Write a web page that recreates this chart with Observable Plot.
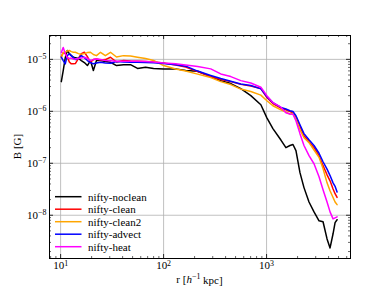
<!DOCTYPE html>
<html><head><meta charset="utf-8">
<script src="https://cdn.jsdelivr.net/npm/d3@7"></script>
<script src="https://cdn.jsdelivr.net/npm/@observablehq/plot@0.6"></script>
<style>body{margin:0;background:#fff}svg{display:block}</style>
</head><body><div id="chart"></div>
<script>
// radius [h^-1 kpc]
const radius = [10.16, 10.6, 11.1, 11.6, 12.15, 12.7, 13.3, 13.9, 14.9, 15.9, 17.0, 18.2, 19.5, 20.8, 22.3, 24.4, 27.2, 30.5, 34.9, 40.8, 47.7, 55.8, 66.8, 79.9, 100, 131, 164, 214, 287, 359, 449, 562, 703, 880, 1007, 1152, 1378, 1541, 1686, 1804, 1929, 2110, 2308, 2582, 2888, 3231, 3534, 3865, 4134, 4421, 4625, 4837];
// B [G]
const noclean = [3.73e-6, 6.1e-6, 1.08e-5, 1.48e-5, 1.29e-5, 1.18e-5, 1.10e-5, 1.08e-5, 1.04e-5, 9.5e-6, 8.7e-6, 7.6e-6, 9.5e-6, 6.1e-6, 9.5e-6, 9.5e-6, 9.1e-6, 8.8e-6, 7.6e-6, 7.9e-6, 7.9e-6, 6.7e-6, 7.05e-6, 6.7e-6, 6.56e-6, 6.56e-6, 6.1e-6, 5.9e-6, 4.66e-6, 3.9e-6, 3.42e-6, 2.74e-6, 2.01e-6, 1.34e-6, 7.5e-7, 4.65e-7, 2.8e-7, 2.0e-7, 2.2e-7, 2.3e-7, 1.75e-7, 6.6e-8, 3.4e-8, 1.8e-8, 1.16e-8, 7.8e-9, 7.5e-9, 3.5e-9, 2.35e-9, 4.4e-9, 7.2e-9, 8.2e-9];
const clean = [1.13e-5, 1.35e-5, 1.29e-5, 1.13e-5, 8.9e-6, 8.2e-6, 8.2e-6, 8.3e-6, 1.04e-5, 1.29e-5, 1.37e-5, 1.13e-5, 8.8e-6, 9.9e-6, 1.02e-5, 9.7e-6, 9.9e-6, 1.10e-5, 8.9e-6, 9.5e-6, 9.3e-6, 9.2e-6, 9.1e-6, 8.9e-6, 8.5e-6, 7.8e-6, 7.1e-6, 5.8e-6, 4.66e-6, 4.1e-6, 3.73e-6, 3.3e-6, 3.06e-6, 2.74e-6, 1.84e-6, 1.41e-6, 1.15e-6, 1.07e-6, 9.9e-7, 9.4e-7, 7.9e-7, 5.1e-7, 3.4e-7, 2.6e-7, 2.0e-7, 1.4e-7, 9.0e-8, 6.0e-8, 4.6e-8, 3.2e-8, 2.6e-8, 2.2e-8];
const clean2 = [1.08e-5, 1.35e-5, 1.37e-5, 1.45e-5, 1.48e-5, 1.41e-5, 1.37e-5, 1.37e-5, 1.29e-5, 1.26e-5, 1.29e-5, 1.35e-5, 1.37e-5, 1.24e-5, 1.18e-5, 1.37e-5, 1.18e-5, 1.37e-5, 1.11e-5, 1.18e-5, 1.16e-5, 1.10e-5, 1.04e-5, 9.5e-6, 7.6e-6, 6.5e-6, 5.95e-6, 5.2e-6, 4.46e-6, 3.73e-6, 3.27e-6, 2.68e-6, 2.4e-6, 2.05e-6, 1.6e-6, 1.28e-6, 1.07e-6, 9.7e-7, 8.8e-7, 9.2e-7, 7.2e-7, 4.45e-7, 3.1e-7, 2.5e-7, 1.8e-7, 1.3e-7, 7.9e-8, 4.2e-8, 2.96e-8, 2.2e-8, 1.8e-8, 1.6e-8];
const advect = [1.10e-5, 9.5e-6, 8.2e-6, 1.18e-5, 1.28e-5, 1.18e-5, 1.08e-5, 9.9e-6, 1.04e-5, 1.18e-5, 1.08e-5, 9.5e-6, 8.7e-6, 8.2e-6, 8.5e-6, 8.8e-6, 8.5e-6, 8.4e-6, 9.1e-6, 8.9e-6, 8.8e-6, 8.8e-6, 8.7e-6, 8.6e-6, 8.3e-6, 7.9e-6, 7.4e-6, 5.95e-6, 4.9e-6, 4.27e-6, 3.8e-6, 3.35e-6, 3.13e-6, 2.7e-6, 1.92e-6, 1.47e-6, 1.19e-6, 1.11e-6, 1.03e-6, 9.9e-7, 8.2e-7, 5.5e-7, 3.72e-7, 2.83e-7, 2.2e-7, 1.56e-7, 1.07e-7, 7.7e-8, 5.8e-8, 4.2e-8, 3.6e-8, 2.8e-8];
const heat = [1.35e-5, 1.69e-5, 1.29e-5, 1.08e-5, 1.04e-5, 1.06e-5, 1.01e-5, 1.02e-5, 1.04e-5, 1.06e-5, 1.10e-5, 1.04e-5, 9.5e-6, 9.9e-6, 1.02e-5, 9.9e-6, 9.5e-6, 9.4e-6, 9.2e-6, 9.2e-6, 9.2e-6, 9.2e-6, 9.1e-6, 8.9e-6, 8.5e-6, 8.2e-6, 7.8e-6, 7.3e-6, 6.56e-6, 5.25e-6, 4.66e-6, 3.9e-6, 3.5e-6, 2.9e-6, 2.0e-6, 1.47e-6, 1.2e-6, 9.4e-7, 8.9e-7, 8.8e-7, 6.6e-7, 3.72e-7, 2.2e-7, 1.4e-7, 9.8e-8, 5.5e-8, 3.1e-8, 1.8e-8, 1.16e-8, 8.5e-9, 8.9e-9, 9.3e-9];

const seriesNames = ["nifty-noclean", "nifty-clean", "nifty-clean2", "nifty-advect", "nifty-heat"];
const seriesValues = [noclean, clean, clean2, advect, heat];
const seriesColors = ["#000000", "#ff0000", "#ffa500", "#0000ff", "#ff00ff"];

const xMajor = [10, 100, 1000];
const xMajorExp = ["1", "2", "3"];
const yMajor = [1e-8, 1e-7, 1e-6, 1e-5];
const yMajorExp = ["−8", "−7", "−6", "−5"];
const yLabel = "B [G]";

const xDomain = [7.8, 6530];
const yDomain = [1.47e-9, 2.88e-5];

// minor ticks (log decades)
const xMinor = [];
for (let e = 0; e <= 3; e++) for (let k = 2; k <= 9; k++) { const v = k * 10 ** e; if (v > xDomain[0] && v < xDomain[1]) xMinor.push(v); }
const yMinor = [];
for (let e = -9; e <= -5; e++) for (let k = 2; k <= 9; k++) { const v = k * 10 ** e; if (v > yDomain[0] && v < yDomain[1]) yMinor.push(v); }

const table = [];
seriesNames.forEach((name, i) => radius.forEach((r, j) => table.push({series: name, r, B: seriesValues[i][j]})));

const W = 388, H = 291, mL = 49, mR = 38, mT = 35, mB = 33;
const fw = W - mL - mR, fh = H - mT - mB;
const font = "Liberation Serif";
const fs = 11;

const chart = Plot.plot({
  width: W, height: H,
  marginLeft: mL, marginRight: mR, marginTop: mT, marginBottom: mB,
  style: {fontFamily: font, fontSize: fs + "px", background: "white", color: "black", overflow: "visible"},
  x: {type: "log", domain: xDomain},
  y: {type: "log", domain: yDomain},
  color: {domain: seriesNames, range: seriesColors},
  marks: [
    Plot.gridX(xMajor, {stroke: "#b0b0b0", strokeOpacity: 1, strokeWidth: 0.8}),
    Plot.gridY(yMajor, {stroke: "#b0b0b0", strokeOpacity: 1, strokeWidth: 0.8}),
    Plot.line(table, {x: "r", y: "B", z: "series", stroke: "series", strokeWidth: 1.5, strokeLinejoin: "round"}),
    Plot.tickX(xMajor, {x: d => d, insetTop: fh - 4, stroke: "black", strokeWidth: 0.8}),
    Plot.tickX(xMajor, {x: d => d, insetBottom: fh - 4, stroke: "black", strokeWidth: 0.8}),
    Plot.tickY(yMajor, {y: d => d, insetRight: fw - 4, stroke: "black", strokeWidth: 0.8}),
    Plot.tickY(yMajor, {y: d => d, insetLeft: fw - 4, stroke: "black", strokeWidth: 0.8}),
    Plot.tickX(xMinor, {x: d => d, insetTop: fh - 2, stroke: "black", strokeWidth: 0.6}),
    Plot.tickX(xMinor, {x: d => d, insetBottom: fh - 2, stroke: "black", strokeWidth: 0.6}),
    Plot.tickY(yMinor, {y: d => d, insetRight: fw - 2, stroke: "black", strokeWidth: 0.6}),
    Plot.tickY(yMinor, {y: d => d, insetLeft: fw - 2, stroke: "black", strokeWidth: 0.6}),
    Plot.frame({stroke: "black", strokeWidth: 1}),
    Plot.axisX(xMajor, {anchor: "bottom", tickSize: 0, tickPadding: 3, label: null, fontSize: fs,
      tickFormat: d => "10^" + xMajorExp[xMajor.indexOf(d)]}),
    Plot.axisY(yMajor, {anchor: "left", tickSize: 0, tickPadding: 3, label: null, fontSize: fs,
      tickFormat: d => "10^" + yMajorExp[yMajor.indexOf(d)]})
  ]
});
document.getElementById("chart").appendChild(chart);

const svg = d3.select(chart);
// superscript rendering of tick labels
svg.selectAll("text").each(function () {
  const t = d3.select(this);
  const s = t.text();
  if (!s.includes("^")) return;
  const [base, exp] = s.split("^");
  t.text(null);
  t.append("tspan").text(base);
  t.append("tspan").attr("dy", "-0.45em").attr("font-size", "0.72em").text(exp);
});

svg.append("text").attr("x", mL + fw / 2).attr("y", 283).attr("text-anchor", "middle")
  .attr("font-family", font).attr("font-size", fs).attr("fill", "black")
  .call(t => {
    t.append("tspan").text("r [");
    t.append("tspan").attr("font-style", "italic").text("h");
    t.append("tspan").attr("dy", "-0.45em").attr("font-size", "0.72em").text("−1");
    t.append("tspan").attr("dy", "0.45em").text(" kpc]");
  });
svg.append("text").attr("transform", `translate(21,${mT + fh / 2}) rotate(-90)`).attr("text-anchor", "middle")
  .attr("font-family", font).attr("font-size", fs).attr("fill", "black").text(yLabel);

const lg = svg.append("g").attr("font-family", font).attr("font-size", fs).attr("text-anchor", "start");
seriesNames.forEach((name, i) => {
  const y = 196.7 + i * 12.5;
  lg.append("line").attr("x1", 55).attr("x2", 81.5).attr("y1", y).attr("y2", y)
    .attr("stroke", seriesColors[i]).attr("stroke-width", 1.5);
  lg.append("text").attr("x", 88).attr("y", y).attr("dy", "0.35em").attr("fill", "black").text(name);
});
</script>
</body></html>
